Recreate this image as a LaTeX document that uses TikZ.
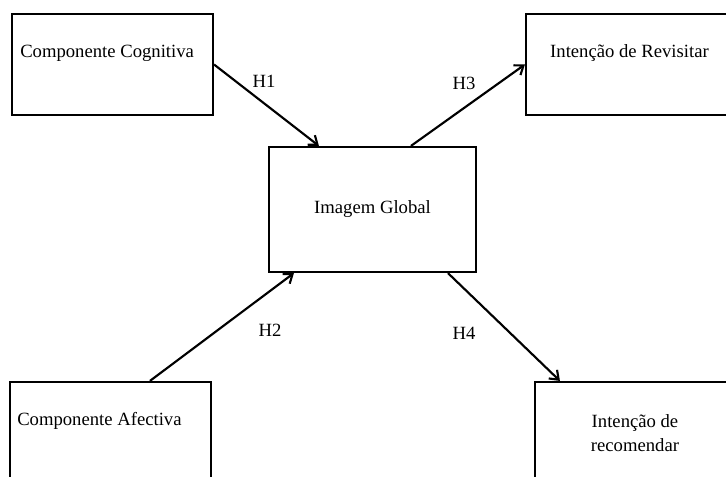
\documentclass[tikz,border=0pt]{standalone}
\usepackage{fontspec}
\setmainfont{Liberation Serif}
\usetikzlibrary{arrows.meta,positioning}
\begin{document}
\begin{tikzpicture}[x=0.75pt,y=-0.75pt,
  box/.style={draw=black,line width=1.6pt,fill=white,rectangle,inner sep=0pt},
  txt/.style={font=\fontsize{14}{18}\selectfont,inner sep=0pt,align=center},
  hyp/.style={font=\fontsize{14}{18}\selectfont,inner sep=0pt},
  conn/.style={line width=1.6pt,-{Straight Barb[length=6pt,width=9pt,line width=1.6pt]}}
]
\useasboundingbox (0,0) rectangle (726,477);
\clip (0,0) rectangle (726,477);
% boxes
\node[box,minimum width=150.75pt,minimum height=75.75pt] (cog) at (112.5,64.5) {};
\node[box,minimum width=165pt,minimum height=75.75pt] (rev) at (636,64.5) {};
\node[box,minimum width=155.25pt,minimum height=93.75pt] (img) at (372.5,209.5) {};
\node[box,minimum width=150.75pt,minimum height=84pt] (afe) at (110.5,438) {};
\node[box,minimum width=165pt,minimum height=84pt] (rec) at (645,438) {};
% texts
\node[txt,anchor=west] (tcog) at (20,53) {Componente Cognitiva};
\node[txt] (trev) at (629.5,53) {Intenção de Revisitar};
\node[txt] (timg) at (372.5,209.5) {Imagem Global};
\node[txt,anchor=west] (tafe) at (17,421) {Componente Afectiva};
\node[txt] (trec) at (635,433) {Intenção de\\recomendar};
% connectors
\draw[conn] (cog.east) -- ([xshift=38.25pt]img.north west);
\draw[conn] ([xshift=107.25pt]img.north west) -- (rev.west);
\draw[conn] ([xshift=105.75pt]afe.north west) -- ([xshift=19.5pt]img.south west);
\draw[conn] ([xshift=135pt]img.south west) -- ([xshift=19.5pt]rec.north west);
% hypothesis labels
\node[hyp] (h1) at (264,81) {H1};
\node[hyp] (h3) at (464,83) {H3};
\node[hyp] (h2) at (270,330) {H2};
\node[hyp] (h4) at (464,333) {H4};
\end{tikzpicture}
\end{document}
